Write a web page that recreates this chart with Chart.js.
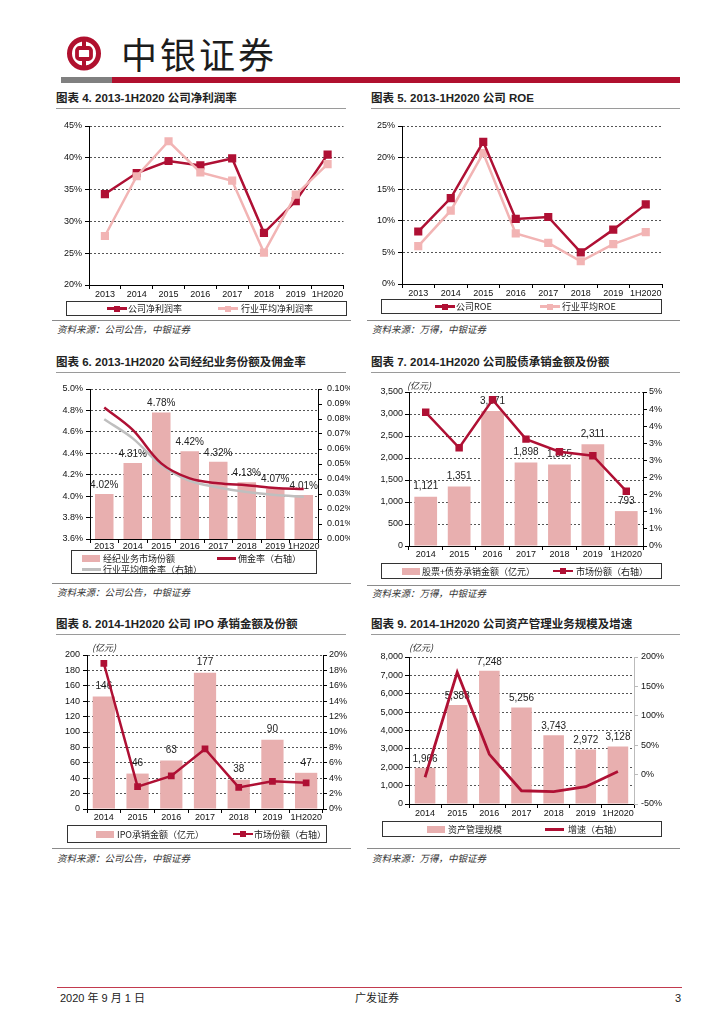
<!DOCTYPE html>
<html lang="zh-CN">
<head>
<meta charset="utf-8">
<title>中银证券</title>
<script src="https://cdn.jsdelivr.net/npm/chart.js@4.4.1/dist/chart.umd.min.js"></script>
<style>
  html, body { margin: 0; padding: 0; background: #fff; }
  #page { position: relative; width: 724px; height: 1024px; overflow: hidden;
          font-family: "Noto Sans CJK SC", sans-serif; color: #222; }
  .abs { position: absolute; white-space: nowrap; }
  .title { font-family: "Liberation Sans", "Noto Sans CJK SC", sans-serif; font-weight: bold; font-size: 11.5px; }
  .src { font-size: 9.5px; font-style: italic; color: #333; }
  .unit { font-size: 9px; font-style: italic; color: #222; }
  .lgt { font-size: 9px; color: #222; }
  .foot { font-family: "Liberation Sans", "Noto Sans CJK SC", sans-serif; font-size: 11px; color: #222; }
</style>
</head>
<body>
<div id="page">
  <svg class="abs" style="left:66px;top:36px" width="36" height="36" viewBox="0 0 36 36">
    <circle cx="18" cy="17.5" r="14.5" fill="none" stroke="#B0102E" stroke-width="5"/>
    <rect x="11" y="12" width="14" height="11" rx="2.5" fill="none" stroke="#B0102E" stroke-width="3.8"/>
    <line x1="18" y1="3" x2="18" y2="12" stroke="#B0102E" stroke-width="4"/>
    <line x1="18" y1="23" x2="18" y2="32" stroke="#B0102E" stroke-width="4"/>
  </svg>
  <div class="abs" style="left:121px;top:33px;font-size:36px;line-height:40px;letter-spacing:3px;color:#1c1c1c">中银证券</div>
  <div class="abs" style="left:61px;top:77px;width:51px;height:6px;background:#808080"></div>
  <div class="abs" style="left:112px;top:77px;width:568px;height:6px;background:#B0102E"></div>
</div>

<script>
// ---- data ----
const years13 = ['2013', '2014', '2015', '2016', '2017', '2018', '2019', '1H2020'];
const years14 = ['2014', '2015', '2016', '2017', '2018', '2019', '1H2020'];

const netMarginCompany  = [34.3, 37.6, 39.5, 38.8, 39.9, 28.2, 33.2, 40.5];
const netMarginIndustry = [27.7, 37.1, 42.6, 37.7, 36.4, 25.1, 34.2, 39.0];

const roeCompany  = [8.3, 13.6, 22.5, 10.3, 10.6, 5.0, 8.6, 12.6];
const roeIndustry = [6.0, 11.6, 20.7, 8.0, 6.5, 3.6, 6.3, 8.2];

const brokerShare        = [4.02, 4.31, 4.78, 4.42, 4.32, 4.13, 4.07, 4.01];
const commissionCompany  = [0.0876, 0.0727, 0.0504, 0.0404, 0.0371, 0.0358, 0.0340, 0.0333];
const commissionIndustry = [0.0798, 0.0671, 0.0493, 0.0387, 0.0344, 0.0313, 0.0293, 0.0282];

const underwriting      = [1121, 1351, 3071, 1898, 1855, 2311, 793];
const underwritingShare = [4.34, 3.19, 4.75, 3.47, 3.06, 2.93, 1.78];

const ipoAmount = [146, 46, 63, 177, 38, 90, 47];
const ipoShare  = [18.9, 2.9, 4.3, 7.8, 2.8, 3.6, 3.4];

const assetMgmt   = [1966, 5388, 7248, 5256, 3743, 2972, 3128];
const assetGrowth = [-4.5, 174, 34.5, -27.5, -28.8, -20.6, 5.2];

// ---- styles ----
const RED = '#AF1034', PINK = '#F2B4B4', BAR = '#E8AFAF', GRAY = '#BFBFBF';
const NUM = "'Liberation Sans Narrow', 'Liberation Sans', Arial, sans-serif";

Chart.defaults.font.family = NUM;
Chart.defaults.font.size = 9;
Chart.defaults.color = '#111';
Chart.defaults.animation = false;

const page = document.getElementById('page');

function put(cls, css, html) {
    const d = document.createElement('div');
    d.className = 'abs ' + cls;
    d.style.cssText = css;
    d.innerHTML = html || '';
    page.appendChild(d);
    return d;
}
function text(cls, str, x, cy, lh) {
    put(cls, `left:${x}px;top:${cy - lh / 2}px;line-height:${lh}px`, str);
}
function hline(x1, x2, y, color, h) {
    put('', `left:${x1}px;top:${y}px;width:${x2 - x1}px;height:${h}px;background:${color}`);
}
function marker(type, color, x, cy) {
    if (type === 'bar') {
        put('', `left:${x}px;top:${cy - 3.5}px;width:18px;height:7px;background:${color}`);
    } else if (type === 'line') {
        put('', `left:${x}px;top:${cy - 1.5}px;width:19px;height:3px;background:${color}`);
    } else {
        put('', `left:${x}px;top:${cy - 1.25}px;width:20px;height:2.5px;background:${color}`);
        put('', `left:${x + 7}px;top:${cy - 3}px;width:6px;height:6px;background:${color}`);
    }
}
function legendBox(x1, y1, x2, y2, items) {
    put('', `left:${x1}px;top:${y1}px;width:${x2 - x1}px;height:${y2 - y1}px;border:1px solid #333;box-sizing:border-box`);
    items.forEach(it => {
        marker(it[0], it[1], it[2], it[5]);
        text('lgt', it[4], it[3], it[5], 11);
    });
}

// bar value labels, drawn right after the bars so lines pass over them
const barLabels = {
    id: 'barLabels',
    afterDatasetDraw(chart, args, opts) {
        if (args.meta.type !== 'bar') return;
        const ds = chart.data.datasets[args.index];
        const ctx = chart.ctx;
        ctx.save();
        ctx.font = '10px ' + NUM;
        ctx.fillStyle = '#222';
        ctx.textAlign = 'center';
        ctx.textBaseline = 'middle';
        args.meta.data.forEach((bar, i) => {
            ctx.fillText(opts.format(ds.data[i]), bar.x, bar.y - opts.offset);
        });
        ctx.restore();
    }
};

function xAxis(pad) {
    return {
        offset: true,
        grid: { drawOnChartArea: false, offset: true, tickLength: 4, color: '#000', tickColor: '#000' },
        border: { color: '#000' },
        ticks: { padding: pad, maxRotation: 0, autoSkip: false, color: '#111' }
    };
}
function yLeft(min, max, count, fmt, pad, withGrid) {
    return {
        position: 'left', min: min, max: max,
        grid: { display: true, drawOnChartArea: withGrid !== false, color: '#555', tickLength: 4, tickColor: '#000' },
        border: { color: '#000', dash: [2, 2] },
        ticks: { count: count, callback: fmt, padding: pad, color: '#111' }
    };
}
function yRight(min, max, count, fmt, pad, axisColor) {
    return {
        position: 'right', min: min, max: max,
        grid: { drawOnChartArea: false, tickLength: 4, color: axisColor || '#000', tickColor: axisColor || '#000' },
        border: { color: axisColor || '#000' },
        ticks: { count: count, callback: fmt, padding: pad, color: '#111' }
    };
}

// canvas box and plot rectangle in page pixels
function makeChart(box, plot, cfg) {
    const c = document.createElement('canvas');
    c.width = box[2]; c.height = box[3];
    c.style.cssText = `position:absolute;left:${box[0]}px;top:${box[1]}px;width:${box[2]}px;height:${box[3]}px`;
    page.appendChild(c);
    const leftW = plot[0] - box[0];
    const topP = plot[1] - box[1];
    const rightW = box[0] + box[2] - plot[2];
    const botH = box[1] + box[3] - plot[3];
    const sc = cfg.options.scales;
    sc.x.afterFit = s => { s.height = botH; };
    sc.y.afterFit = s => { s.width = leftW; };
    if (sc.y1) sc.y1.afterFit = s => { s.width = rightW; };
    cfg.options.layout = { padding: { top: topP, left: 0, bottom: 0, right: sc.y1 ? 0 : rightW } };
    cfg.options.responsive = false;
    cfg.options.plugins = Object.assign({ legend: { display: false }, tooltip: { enabled: false } }, cfg.options.plugins || {});
    cfg.plugins = [barLabels];
    return new Chart(c, cfg);
}

const pct0 = v => Math.round(v) + '%';
const comma = v => v.toLocaleString('en-US');

// ---- 图表4 净利润率 ----
makeChart([50, 115, 300, 185], [89, 126, 347, 285], {
    type: 'line',
    data: {
        labels: years13,
        datasets: [
            { label: '公司净利润率', data: netMarginCompany, borderColor: RED, backgroundColor: RED,
              borderWidth: 2.5, pointStyle: 'rect', pointRadius: 4, order: 1 },
            { label: '行业平均净利润率', data: netMarginIndustry, borderColor: PINK, backgroundColor: PINK,
              borderWidth: 2.5, pointStyle: 'rect', pointRadius: 4, order: 0 }
        ]
    },
    options: { scales: { x: xAxis(0), y: yLeft(20, 45, 6, pct0, 3) } }
});

// ---- 图表5 ROE ----
makeChart([360, 115, 320, 183], [402, 126, 662, 284], {
    type: 'line',
    data: {
        labels: years13,
        datasets: [
            { label: '公司ROE', data: roeCompany, borderColor: RED, backgroundColor: RED,
              borderWidth: 2.5, pointStyle: 'rect', pointRadius: 4, order: 0 },
            { label: '行业平均ROE', data: roeIndustry, borderColor: PINK, backgroundColor: PINK,
              borderWidth: 2.5, pointStyle: 'rect', pointRadius: 4, order: 1 }
        ]
    },
    options: { scales: { x: xAxis(0), y: yLeft(0, 25, 6, pct0, 3) } }
});

// ---- 图表6 经纪业务份额及佣金率 ----
makeChart([50, 378, 300, 174], [90, 389, 318, 539], {
    type: 'bar',
    data: {
        labels: years13,
        datasets: [
            { type: 'line', label: '佣金率（右轴）', data: commissionCompany, yAxisID: 'y1', borderColor: RED,
              borderWidth: 2.5, pointRadius: 0, tension: 0.35, order: 0 },
            { type: 'line', label: '行业平均佣金率（右轴）', data: commissionIndustry, yAxisID: 'y1', borderColor: GRAY,
              borderWidth: 2.5, pointRadius: 0, tension: 0.35, order: 1 },
            { label: '经纪业务市场份额', data: brokerShare, yAxisID: 'y', backgroundColor: BAR,
              categoryPercentage: 1, barPercentage: 0.65, order: 2 }
        ]
    },
    options: {
        scales: {
            x: xAxis(-2),
            y: yLeft(3.6, 5.0, 8, v => v.toFixed(1) + '%', 3),
            y1: yRight(0, 0.10, 11, v => v.toFixed(2) + '%', 5)
        },
        plugins: { barLabels: { format: v => v.toFixed(2) + '%', offset: 9 } }
    }
});

// ---- 图表7 股债承销金额及份额 ----
makeChart([360, 380, 320, 180], [409, 392, 643, 546], {
    type: 'bar',
    data: {
        labels: years14,
        datasets: [
            { type: 'line', label: '市场份额（右轴）', data: underwritingShare, yAxisID: 'y1', borderColor: RED,
              backgroundColor: RED, borderWidth: 2.5, pointStyle: 'rect', pointRadius: 3.5, order: 0 },
            { label: '股票+债券承销金额（亿元）', data: underwriting, yAxisID: 'y', backgroundColor: BAR,
              categoryPercentage: 1, barPercentage: 0.68, order: 1 }
        ]
    },
    options: {
        scales: {
            x: xAxis(-1),
            y: yLeft(0, 3500, 8, comma, 2),
            y1: yRight(0, 5, 10, pct0, 2)
        },
        plugins: { barLabels: { format: comma, offset: 10 } }
    }
});

// ---- 图表8 IPO承销金额及份额 ----
makeChart([50, 640, 300, 183], [87, 655, 323, 809], {
    type: 'bar',
    data: {
        labels: years14,
        datasets: [
            { type: 'line', label: '市场份额（右轴）', data: ipoShare, yAxisID: 'y1', borderColor: RED,
              backgroundColor: RED, borderWidth: 2.5, pointStyle: 'rect', pointRadius: 3, order: 0 },
            { label: 'IPO承销金额（亿元）', data: ipoAmount, yAxisID: 'y', backgroundColor: BAR,
              categoryPercentage: 1, barPercentage: 0.66, order: 1 }
        ]
    },
    options: {
        scales: {
            x: xAxis(-1),
            y: yLeft(0, 200, 11, v => String(v), 3),
            y1: yRight(0, 20, 11, pct0, 2)
        },
        plugins: { barLabels: { format: v => String(v), offset: 10 } }
    }
});

// ---- 图表9 资产管理规模及增速 ----
makeChart([360, 642, 320, 176], [409, 657, 634, 804], {
    type: 'bar',
    data: {
        labels: years14,
        datasets: [
            { type: 'line', label: '增速（右轴）', data: assetGrowth, yAxisID: 'y1', borderColor: RED,
              borderWidth: 2.8, pointRadius: 0, order: 0 },
            { label: '资产管理规模', data: assetMgmt, yAxisID: 'y', backgroundColor: BAR,
              categoryPercentage: 1, barPercentage: 0.64, order: 1 }
        ]
    },
    options: {
        scales: {
            x: xAxis(0),
            y: yLeft(0, 8000, 9, comma, 2),
            y1: yRight(-50, 200, 6, pct0, 3, '#BBBBBB')
        },
        plugins: { barLabels: { format: comma, offset: 9 } }
    }
});

// ---- titles, rules, legends, sources ----
const titleRows = [
    ['图表 4. 2013-1H2020 公司净利润率', '图表 5. 2013-1H2020 公司 ROE', 98],
    ['图表 6. 2013-1H2020 公司经纪业务份额及佣金率', '图表 7. 2014-1H2020 公司股债承销金额及份额', 362],
    ['图表 8. 2014-1H2020 公司 IPO 承销金额及份额', '图表 9. 2014-1H2020 公司资产管理业务规模及增速', 624]
];
titleRows.forEach(r => {
    text('title', r[0], 56, r[2], 14);
    text('title', r[1], 371, r[2], 14);
    hline(56, 346, r[2] + 10, '#9A9A9A', 1);
    hline(371, 680, r[2] + 10, '#9A9A9A', 1);
});

const SRC_A = '资料来源：公司公告，中银证券';
const SRC_B = '资料来源：万得，中银证券';
hline(52, 351, 320, '#8A8A8A', 1);  text('src', SRC_A, 57, 329, 12);
hline(367, 680, 320, '#8A8A8A', 1); text('src', SRC_B, 372, 329, 12);
hline(52, 351, 583, '#8A8A8A', 1);  text('src', SRC_A, 57, 592, 12);
hline(367, 680, 585, '#8A8A8A', 1); text('src', SRC_B, 372, 593, 12);
hline(52, 351, 848, '#8A8A8A', 1);  text('src', SRC_A, 57, 858, 12);
hline(367, 680, 848, '#8A8A8A', 1); text('src', SRC_B, 372, 858, 12);

text('unit', '(亿元)', 407, 385, 11);
text('unit', '(亿元)', 92, 647, 11);
text('unit', '(亿元)', 409, 647, 11);

legendBox(66, 301, 347, 316, [
    ['lineRect', RED, 107, 128, '公司净利润率', 308.5],
    ['lineRect', PINK, 218, 241, '行业平均净利润率', 308.5]
]);
legendBox(381, 299, 662, 314, [
    ['lineRect', RED, 435, 456, '公司ROE', 306.5],
    ['lineRect', PINK, 540, 562, '行业平均ROE', 306.5]
]);
legendBox(71, 550, 317, 574, [
    ['bar', BAR, 82, 103, '经纪业务市场份额', 558],
    ['line', RED, 217, 238, '佣金率（右轴）', 558],
    ['line', GRAY, 82, 103, '行业平均佣金率（右轴）', 569]
]);
legendBox(381, 563, 662, 579, [
    ['bar', BAR, 402, 422, '股票+债券承销金额（亿元）', 571],
    ['lineRect', RED, 553, 576, '市场份额（右轴）', 571]
]);
legendBox(67, 825, 327, 843, [
    ['bar', BAR, 96, 117, 'IPO承销金额（亿元）', 834],
    ['lineRect', RED, 233, 254, '市场份额（右轴）', 834]
]);
legendBox(382, 821, 662, 837, [
    ['bar', BAR, 427, 448, '资产管理规模', 829],
    ['line', RED, 545, 568, '增速（右轴）', 829]
]);

// ---- footer ----
hline(57, 682, 987, '#C23A4E', 1);
text('foot', '2020 年 9 月 1 日', 60, 998, 13);
text('foot', '广发证券', 355, 998, 13);
text('foot', '3', 675, 998, 13);
</script>
</body>
</html>
